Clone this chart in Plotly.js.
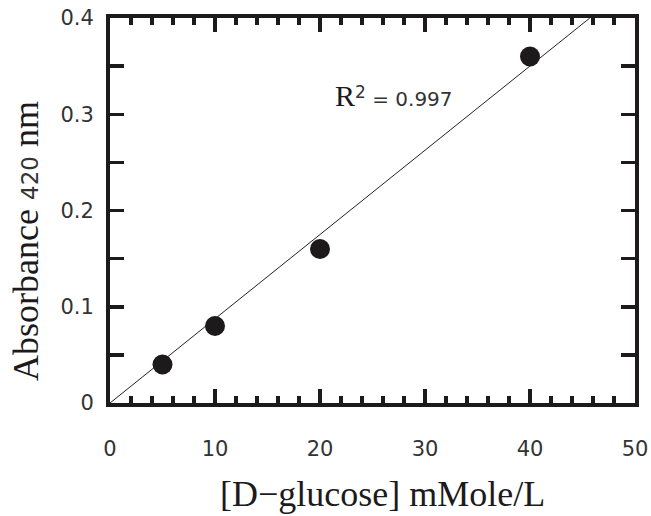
<!DOCTYPE html>
<html>
<head>
<meta charset="utf-8">
<script src="https://cdn.plot.ly/plotly-3.0.1.min.js"></script>
<style>html,body{margin:0;padding:0;background:#fff;}#chart{width:651px;height:516px;}</style>
</head>
<body>
<div id="chart"></div>
<script>
// Data
var glucose = [5, 10, 20, 40];          // mMole/L
var absorbance = [0.04, 0.08, 0.16, 0.36];
var rSquaredText = "0.997";
var xTickVals = [0, 10, 20, 30, 40, 50];
var yTickVals = [0, 0.1, 0.2, 0.3, 0.4];
var yTickText = ["0", "0.1", "0.2", "0.3", "0.4"];

// least-squares fit through the origin
var sxy = 0, sxx = 0;
for (var i = 0; i < glucose.length; i++) { sxy += glucose[i] * absorbance[i]; sxx += glucose[i] * glucose[i]; }
var slope = sxy / sxx;
var yMax = 0.4;
var fitX = [0, yMax / slope];
var fitY = fitX.map(function (v) { return v * slope; });

var sans = "DejaVu Sans";
var serif = "Liberation Serif";
var tickFont = {family: sans, size: 21, color: "#333"};

var traces = [
  {x: fitX, y: fitY, mode: "lines", line: {color: "#222", width: 1}, hoverinfo: "skip", showlegend: false},
  {x: glucose, y: absorbance, mode: "markers", marker: {color: "#1c1a1b", size: 20}, showlegend: false}
];

var layout = {
  width: 651, height: 516,
  margin: {l: 110, r: 16, t: 18, b: 113},
  paper_bgcolor: "#fff", plot_bgcolor: "#fff",
  showlegend: false,
  xaxis: {
    range: [0, 50], tickvals: xTickVals, ticktext: xTickVals.map(String),
    ticks: "inside", ticklen: 14, tickwidth: 3.5, tickcolor: "#1c1a1b",
    minor: {dtick: 2, tick0: 0, ticks: "inside", ticklen: 7, tickwidth: 3.5, tickcolor: "#1c1a1b"},
    showline: true, linewidth: 4, linecolor: "#1c1a1b", mirror: "ticks",
    showgrid: false, zeroline: false, tickfont: tickFont, ticklabelstandoff: 24
  },
  yaxis: {
    range: [0, 0.4], tickvals: yTickVals, ticktext: yTickText,
    ticks: "inside", ticklen: 14, tickwidth: 3.5, tickcolor: "#1c1a1b",
    minor: {dtick: 0.05, tick0: 0, ticks: "inside", ticklen: 14, tickwidth: 3.5, tickcolor: "#1c1a1b"},
    showline: true, linewidth: 4, linecolor: "#1c1a1b", mirror: "ticks",
    showgrid: false, zeroline: false, tickfont: tickFont, ticklabelstandoff: 8
  },
  annotations: [
    {xref: "paper", yref: "paper", x: 0.519, y: -0.236, xanchor: "center", yanchor: "middle", showarrow: false,
     text: "[D\u2212glucose] mMole/L", font: {family: serif, size: 36, color: "#1c1a1b"}},
    {xref: "paper", yref: "paper", x: -0.16, y: 0.421, xanchor: "center", yanchor: "middle", showarrow: false, textangle: -90,
     text: "Absorbance <span style=\"font-family:" + sans + ";font-size:23px;color:#333\">420</span> nm",
     font: {family: serif, size: 36, color: "#1c1a1b"}},
    {xref: "x", yref: "y", x: 21.2, y: 0.319, xanchor: "left", yanchor: "middle", showarrow: false,
     text: "<span style=\"font-family:" + serif + ";font-size:30px;color:#1c1a1b\">R</span><sup><span style=\"font-size:17px\">2</span></sup> = " + rSquaredText,
     font: {family: sans, size: 20, color: "#333"}}
  ]
};

Plotly.newPlot("chart", traces, layout, {staticPlot: true});
</script>
</body>
</html>
